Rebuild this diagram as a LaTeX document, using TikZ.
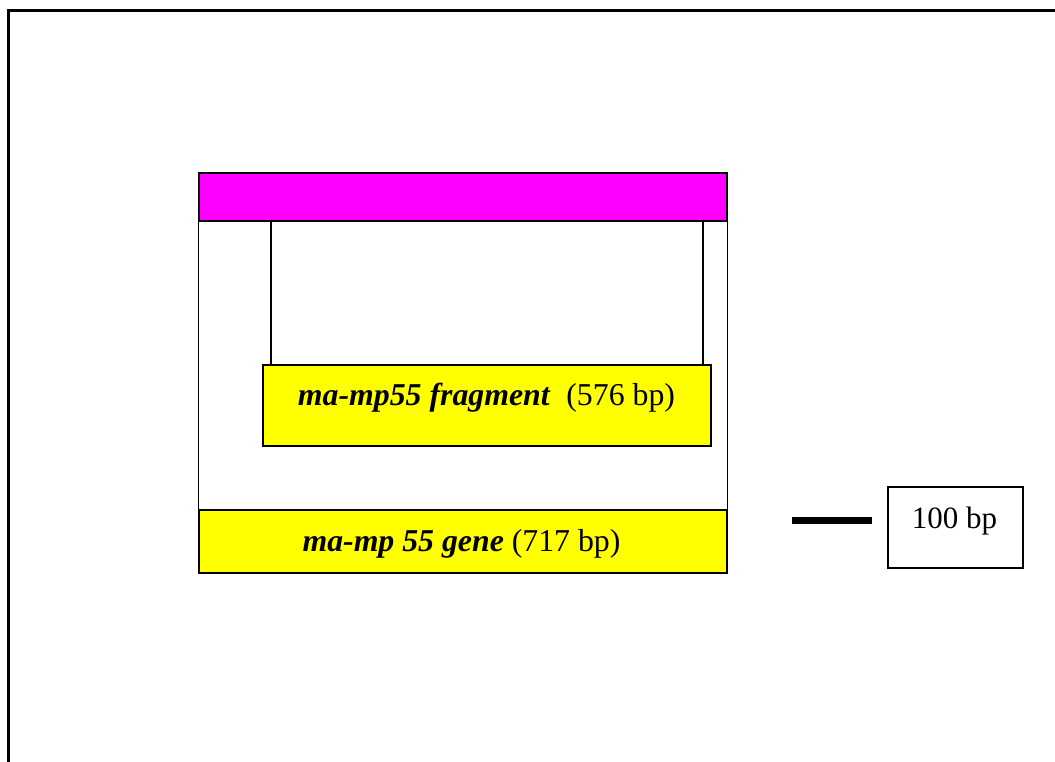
\documentclass[tikz,border=0pt]{standalone}
\usepackage{fontspec}
\setmainfont{Liberation Serif}
\definecolor{barmag}{HTML}{FF00FF}
\definecolor{boxyel}{HTML}{FFFF00}
\begin{document}
\begin{tikzpicture}[x=1pt,y=-1pt,
  box/.style={draw=black,line width=1.4pt,inner sep=0pt,minimum width=#1},
  lbl/.style={inner sep=0pt,anchor=base,font=\fontsize{31.8}{34}\selectfont},
  thinline/.style={draw=black,line width=1.4pt}]
\useasboundingbox (0,0) rectangle (1055,761);
\fill[white] (0,0) rectangle (1055,761);
% outer frame (top and left visible)
\coordinate (ftl) at (8.5,10.5);
\coordinate (ftr) at (1056,10.5);
\coordinate (fbl) at (8.5,762);
\draw[line width=2.4pt] (ftr) -- (ftl) -- (fbl);
% bars
\node[box=528pt,minimum height=48pt,fill=barmag] (bar) at (463,197) {};
\node[box=448pt,minimum height=81pt,fill=boxyel] (frag) at (487,405.5) {};
\node[box=528pt,minimum height=63pt,fill=boxyel] (gene) at (463,541.5) {};
% connectors
\draw[thinline] (bar.south west) -- (gene.north west);
\draw[thinline] (bar.south east) -- (gene.north east);
\coordinate (l1) at (271,0);
\coordinate (r1) at (703,0);
\draw[thinline] (bar.south -| l1) -- (frag.north -| l1);
\draw[thinline] (bar.south -| r1) -- (frag.north -| r1);
% labels
\node[lbl] (fragtext) at (486.5,405) {\textbf{\textit{ma-mp55 fragment}}\ \ (576 bp)};
\node[lbl] (genetext) at (461.5,551.5) {\textbf{\textit{ma-mp 55 gene}} (717 bp)};
% scale bar
\coordinate (sa) at (792,520);
\coordinate (sb) at (872,520);
\draw[line width=7pt] (sa) -- (sb);
\node[box=135pt,minimum height=81pt] (scalebox) at (955.5,527.5) {};
\node[lbl,font=\fontsize{31}{33}\selectfont] (scaletext) at (954.5,528) {100 bp};
\end{tikzpicture}
\end{document}
